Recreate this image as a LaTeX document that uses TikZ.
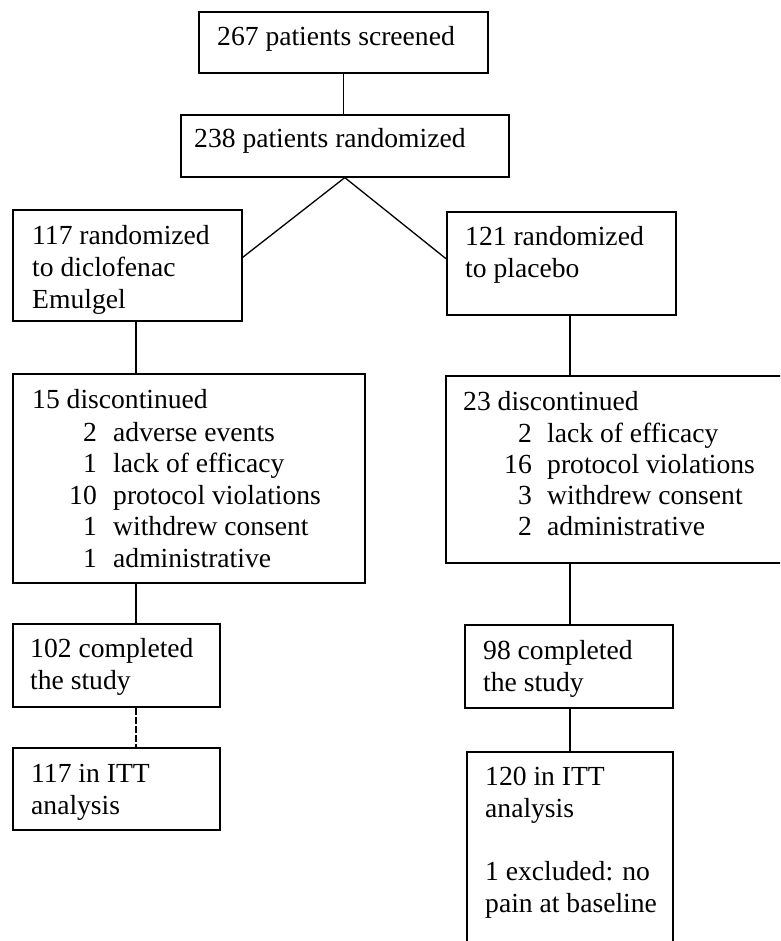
\documentclass[tikz,border=0pt]{standalone}
\usepackage{fontspec}
\setmainfont{Liberation Serif}
\usetikzlibrary{calc}
\tikzset{
  box/.style={draw, line width=1.6pt, rectangle, anchor=north west, inner sep=0pt},
  conn/.style={line width=1.3pt},
  txt/.style={anchor=base west, inner sep=0pt, font=\fontsize{27.6}{32}\selectfont},
  num/.style={anchor=base east, inner sep=0pt, font=\fontsize{27.6}{32}\selectfont}
}
\begin{document}
\begin{tikzpicture}[x=1pt,y=-1pt]
\useasboundingbox (0,0) rectangle (780,941);
\clip (0,0) rectangle (780,941);
% boxes
\node[box, minimum width=289pt, minimum height=61pt] (b1) at (198,11) {};
\node[box, minimum width=328pt, minimum height=62pt] (b2) at (180,114) {};
\node[box, minimum width=229pt, minimum height=111pt] (b3) at (12,209) {};
\node[box, minimum width=229pt, minimum height=103pt] (b4) at (446,211) {};
\node[box, minimum width=352pt, minimum height=209pt] (b5) at (12,373) {};
\node[box, minimum width=380pt, minimum height=187pt] (b6) at (445,375) {};
\node[box, minimum width=207pt, minimum height=83pt] (b7) at (12,623) {};
\node[box, minimum width=208pt, minimum height=83pt] (b9) at (464,624) {};
\node[box, minimum width=207pt, minimum height=82pt] (b8) at (12,747) {};
\node[box, minimum width=206pt, minimum height=230pt] (b10) at (466,751) {};
% texts
\node[txt] (t1) at (217,46) {267 patients screened};
\node[txt] (t2) at (194,148) {238 patients randomized};
\node[txt] (t3) at (32,244) {\begin{tabular}[t]{@{}l@{}}117 randomized\\to diclofenac\\Emulgel\end{tabular}};
\node[txt] (t4) at (465,245) {\begin{tabular}[t]{@{}l@{}}121 randomized\\to placebo\end{tabular}};
\node[txt] (t5) at (32,408) {15 discontinued};
\node[num, font=\fontsize{27.6}{31.5}\selectfont] (n5) at (97,441) {\begin{tabular}[t]{@{}r@{}}2\\1\\10\\1\\1\end{tabular}};
\node[txt, font=\fontsize{27.6}{31.5}\selectfont] (l5) at (113,441) {\begin{tabular}[t]{@{}l@{}}adverse events\\lack of efficacy\\protocol violations\\withdrew consent\\administrative\end{tabular}};
\node[txt] (t6) at (463,410) {23 discontinued};
\node[num, font=\fontsize{27.6}{31}\selectfont] (n6) at (532,442) {\begin{tabular}[t]{@{}r@{}}2\\16\\3\\2\end{tabular}};
\node[txt, font=\fontsize{27.6}{31}\selectfont] (l6) at (547,442) {\begin{tabular}[t]{@{}l@{}}lack of efficacy\\protocol violations\\withdrew consent\\administrative\end{tabular}};
\node[txt] (t7) at (30,657) {\begin{tabular}[t]{@{}l@{}}102 completed\\the study\end{tabular}};
\node[txt] (t9) at (483,659) {\begin{tabular}[t]{@{}l@{}}98 completed\\the study\end{tabular}};
\node[txt] (t8) at (31,782) {\begin{tabular}[t]{@{}l@{}}117 in ITT\\analysis\end{tabular}};
\node[txt] (t10) at (485,785) {\begin{tabular}[t]{@{}l@{}}120 in ITT\\analysis\\[31pt]1 excluded: no\\pain at baseline\end{tabular}};
% connector columns
\coordinate (cl) at (136,0);
\coordinate (cr) at (570,0);
% connectors
\draw[conn] (b1.south) -- (b1.south |- b2.north);
\draw[conn] (b2.south) -- ($(b3.north east)!0.43!(b3.south east)$);
\draw[conn] (b2.south) -- ($(b4.north west)!0.456!(b4.south west)$);
\draw[conn] (b3.south -| cl) -- (b5.north -| cl);
\draw[conn] (b4.south -| cr) -- (b6.north -| cr);
\draw[conn] (b5.south -| cl) -- (b7.north -| cl);
\draw[conn, dash pattern=on 7pt off 2pt] (b7.south -| cl) -- (b8.north -| cl);
\draw[conn] (b6.south -| cr) -- (b9.north -| cr);
\draw[conn] (b9.south -| cr) -- (b10.north -| cr);
\end{tikzpicture}
\end{document}
